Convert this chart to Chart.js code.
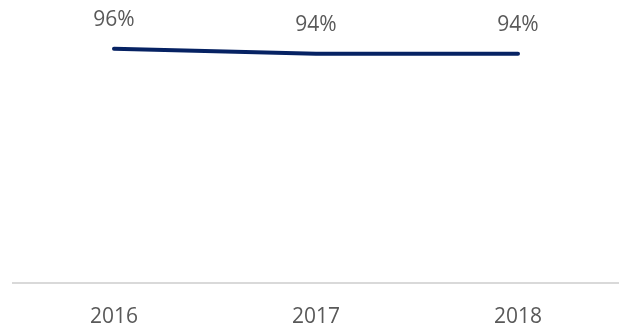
<!DOCTYPE html>
<html>
<head>
<meta charset="utf-8">
<script src="https://cdn.jsdelivr.net/npm/chart.js@4"></script>
<style>
  html, body { margin: 0; padding: 0; background: #fff; }
  #wrap { width: 619px; height: 328px; }
</style>
</head>
<body>
<div id="wrap"><canvas id="chart"></canvas></div>
<script>
// Chart data
const years = ['2016', '2017', '2018'];
const rates = [96, 94, 94];

// Draw value labels above each point
const valueLabels = {
    id: 'valueLabels',
    afterDatasetsDraw(chart) {
        const ctx = chart.ctx;
        const meta = chart.getDatasetMeta(0);
        ctx.save();
        ctx.font = '21px "Open Sans"';
        ctx.fillStyle = '#595959';
        ctx.textAlign = 'center';
        ctx.textBaseline = 'middle';
        meta.data.forEach((pt, i) => {
            ctx.fillText(rates[i] + '%', pt.x, pt.y - 29);
        });
        ctx.restore();
    }
};

new Chart(document.getElementById('chart'), {
    type: 'line',
    data: {
        labels: years,
        datasets: [{
            data: rates,
            borderColor: '#062263',
            borderWidth: 4,
            borderCapStyle: 'round',
            pointRadius: 0,
            tension: 0
        }]
    },
    options: {
        responsive: true,
        maintainAspectRatio: false,
        animation: false,
        layout: { padding: { top: 39, left: 13, right: 0, bottom: 0 } },
        plugins: {
            legend: { display: false },
            tooltip: { enabled: false }
        },
        scales: {
            x: {
                offset: true,
                grid: { display: false, drawTicks: false },
                border: { display: true, color: '#d9d9d9', width: 2 },
                ticks: {
                    color: '#595959',
                    padding: 21,
                    font: { family: 'Open Sans', size: 21 }
                },
                afterFit(scale) {
                    scale.height = 45;
                }
            },
            y: {
                display: false,
                min: 0,
                max: 100
            }
        }
    },
    plugins: [valueLabels]
});
</script>
</body>
</html>
